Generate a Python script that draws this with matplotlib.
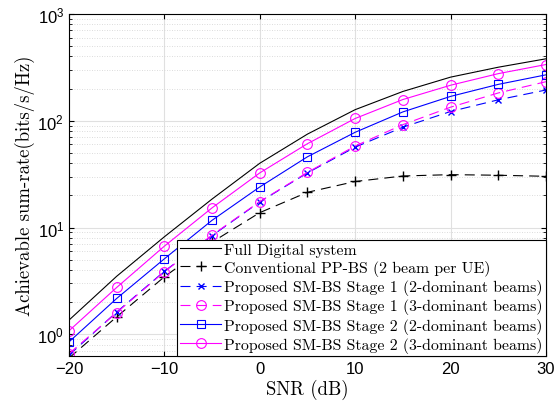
import matplotlib
matplotlib.use("Agg")
import matplotlib.pyplot as plt
from matplotlib.ticker import LogLocator, NullFormatter

# SNR points (dB)
snr = [-20, -15, -10, -5, 0, 5, 10, 15, 20, 25, 30]

# sum-rate values (bits/s/Hz)
full_digital = [1.36, 3.5, 8.2, 18.5, 40, 75, 127, 188, 256, 317, 380]
pp_bs = [0.60, 1.46, 3.46, 7.3, 13.8, 21.4, 27, 30.4, 31.3, 30.9, 30.2]
stage1_2dom = [0.64, 1.62, 3.9, 8.4, 17.4, 32.5, 56.6, 87, 122, 157, 194]
stage1_3dom = [0.66, 1.6, 3.86, 8.5, 17.5, 32.9, 58, 92, 134, 182, 232]
stage2_2dom = [0.85, 2.17, 5.1, 11.7, 24, 46, 78, 121, 169, 219, 269]
stage2_3dom = [1.08, 2.75, 6.7, 15.3, 32.5, 61, 105, 158, 215, 276, 336]

labels = [
    "Full Digital system",
    "Conventional PP-BS (2 beam per UE)",
    "Proposed SM-BS Stage 1 (2-dominant beams)",
    "Proposed SM-BS Stage 1 (3-dominant beams)",
    "Proposed SM-BS Stage 2 (2-dominant beams)",
    "Proposed SM-BS Stage 2 (3-dominant beams)",
]

fig = plt.figure(figsize=(5.56, 4.14), dpi=100)
ax = fig.add_axes([0.124, 0.138, 0.858, 0.826])

lw = 0.8
dash = (0, (9, 5.5))  # matlab-like long dashes
blue, mag = "#0000ff", "#ff00ff"
ax.semilogy(snr, full_digital, "-", color="k", lw=lw, label=labels[0])
ax.semilogy(snr, pp_bs, ls=dash, color="k", lw=lw, marker="+", ms=7, mew=1, label=labels[1])
ax.semilogy(snr, stage1_2dom, ls=dash, color=blue, lw=lw, marker="x", ms=5, mew=1, label=labels[2])
ax.semilogy(snr, stage1_3dom, ls=dash, color=mag, lw=lw, marker="o", ms=7, mfc="none", mew=0.8, label=labels[3])
ax.semilogy(snr, stage2_2dom, "-", color=blue, lw=lw, marker="s", ms=6, mfc="none", mew=0.8, label=labels[4])
ax.semilogy(snr, stage2_3dom, "-", color=mag, lw=lw, marker="o", ms=7, mfc="none", mew=0.8, label=labels[5])

ax.set_xlim(-20, 30)
ax.set_ylim(0.63, 1000)
ax.set_xticks([-20, -10, 0, 10, 20, 30])
ax.yaxis.set_minor_locator(LogLocator(base=10, subs=range(2, 10), numticks=20))
ax.yaxis.set_minor_formatter(NullFormatter())

ax.grid(True, which="major", color="#e0e0e0", lw=0.8)
ax.grid(True, which="minor", axis="y", color="#d0d0d0", lw=0.6, ls=(0, (1, 2)))
ax.set_axisbelow(True)

ax.tick_params(which="both", direction="in", top=True, right=True)
ax.tick_params(axis="x", which="minor", bottom=False, top=False)
for t in ax.get_xticklabels() + ax.get_yticklabels():
    t.set_fontfamily("Liberation Sans")
    t.set_fontsize(12)
for sp in ax.spines.values():
    sp.set_linewidth(0.8)

ax.set_xlabel("SNR (dB)", family="cmr10", fontsize=13.5, labelpad=2)
ax.set_ylabel("Achievable sum-rate(bits/s/Hz)", family="cmr10", fontsize=13.5, labelpad=2)

leg = ax.legend(loc="lower right", prop={"family": "cmr10", "size": 11.4},
                borderaxespad=0, fancybox=False, edgecolor="k",
                handlelength=2.6, handletextpad=0.2, labelspacing=0.2,
                borderpad=0.2, framealpha=1)
leg.get_frame().set_linewidth(0.8)

fig.savefig("out.png", dpi=100)
